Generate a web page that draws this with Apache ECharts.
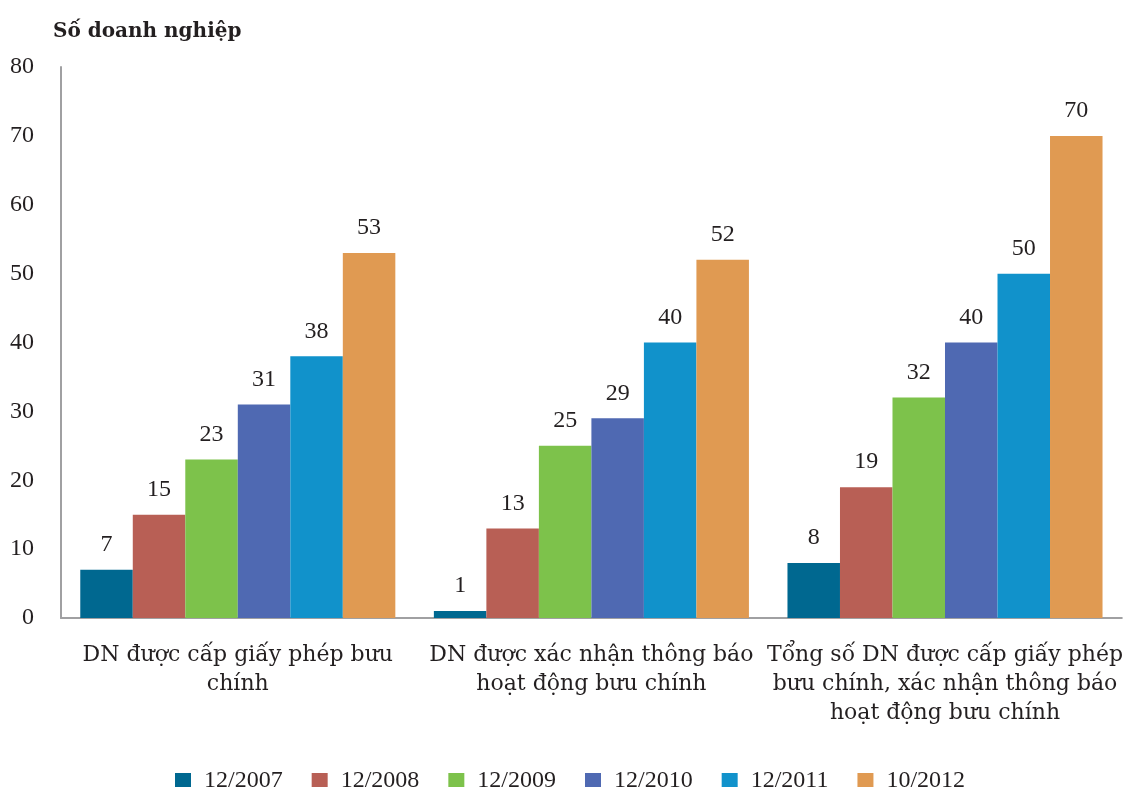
<!DOCTYPE html>
<html>
<head>
<meta charset="utf-8">
<script src="https://cdn.jsdelivr.net/npm/echarts@6/dist/echarts.min.js"></script>
<style>
  html, body { margin: 0; padding: 0; background: #fff; }
  #chart { width: 1126px; height: 787px; }
</style>
</head>
<body>
<div id="chart"></div>
<script>
// Categories (x axis) and period series
const categories = [
  'DN được cấp giấy phép bưu\nchính',
  'DN được xác nhận thông báo\nhoạt động bưu chính',
  'Tổng số DN được cấp giấy phép\nbưu chính, xác nhận thông báo\nhoạt động bưu chính'
];
const periods = ['12/2007', '12/2008', '12/2009', '12/2010', '12/2011', '10/2012'];
const v2007 = [7, 1, 8];
const v2008 = [15, 13, 19];
const v2009 = [23, 25, 32];
const v2010 = [31, 29, 40];
const v2011 = [38, 40, 50];
const v2012 = [53, 52, 70];
const yTicks = [0, 10, 20, 30, 40, 50, 60, 70, 80];

const seriesValues = [v2007, v2008, v2009, v2010, v2011, v2012];
const colors = ['#006890', '#B85F55', '#7DC24B', '#4F69B2', '#1192CB', '#E09A52'];

const FONT = 'DejaVu Serif';        // words
const NUM_FONT = 'Liberation Serif'; // numbers and dates
const TEXT = '#231f20';

const chart = echarts.init(document.getElementById('chart'), null, { renderer: 'canvas' });

chart.setOption({
  animation: false,
  textStyle: { fontFamily: FONT },
  title: {
    text: 'Số doanh nghiệp',
    left: 48,
    top: 17,
    textStyle: { fontFamily: FONT, fontWeight: 'bold', fontSize: 20, color: TEXT }
  },
  grid: { left: 61, right: 4, top: 67, bottom: 169, containLabel: false },
  legend: {
    data: periods,
    left: 170,
    top: 764,
    itemWidth: 16,
    itemHeight: 16,
    itemGap: 29,
    icon: 'rect',
    textStyle: { fontFamily: NUM_FONT, fontSize: 24, color: TEXT, padding: [0, 0, 0, 8] }
  },
  xAxis: {
    type: 'category',
    data: categories,
    axisLine: { lineStyle: { color: '#a0a0a2', width: 2 } },
    axisTick: { show: false },
    axisLabel: {
      interval: 0,
      margin: 23,
      fontFamily: FONT,
      fontSize: 22,
      lineHeight: 29,
      color: TEXT,
      align: 'center'
    }
  },
  yAxis: {
    type: 'value',
    min: yTicks[0],
    max: yTicks[yTicks.length - 1],
    interval: yTicks[1] - yTicks[0],
    axisLine: { show: true, lineStyle: { color: '#a0a0a2', width: 2 } },
    axisTick: { show: false },
    splitLine: { show: false },
    axisLabel: { margin: 27, fontFamily: NUM_FONT, fontSize: 24, color: TEXT }
  },
  series: periods.map((name, i) => ({
    name,
    type: 'bar',
    data: seriesValues[i],
    barGap: '0%',
    barCategoryGap: '10.9%',
    itemStyle: { color: colors[i] },
    label: {
      show: true,
      position: 'top',
      distance: 13,
      fontFamily: NUM_FONT,
      fontSize: 24,
      color: TEXT
    }
  }))
});
</script>
</body>
</html>
